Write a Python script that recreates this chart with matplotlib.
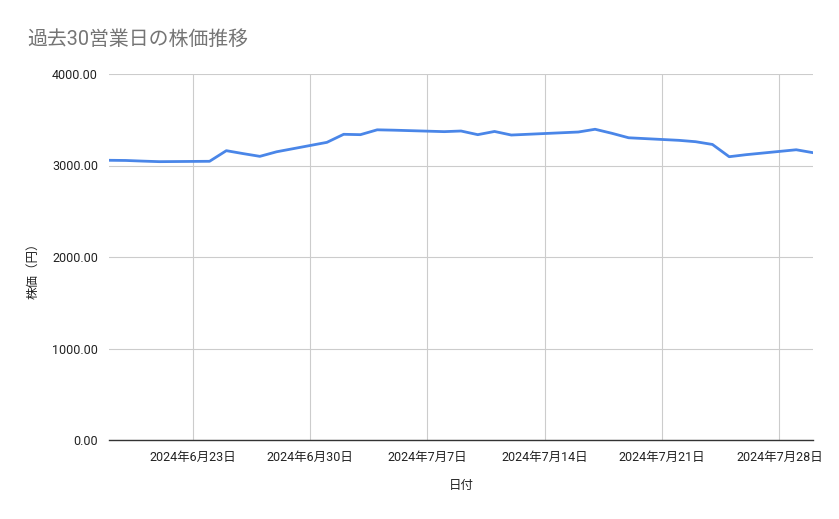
import matplotlib
matplotlib.use('Agg')
import matplotlib.pyplot as plt
import pandas as pd

plt.rcParams['font.family'] = ['Roboto', 'Noto Sans CJK JP', 'DejaVu Sans']

# 過去30営業日のデータ
dates = pd.to_datetime([
    '2024-06-18', '2024-06-19', '2024-06-20', '2024-06-21', '2024-06-24',
    '2024-06-25', '2024-06-26', '2024-06-27', '2024-06-28', '2024-07-01',
    '2024-07-02', '2024-07-03', '2024-07-04', '2024-07-05', '2024-07-08',
    '2024-07-09', '2024-07-10', '2024-07-11', '2024-07-12', '2024-07-16',
    '2024-07-17', '2024-07-18', '2024-07-19', '2024-07-22', '2024-07-23',
    '2024-07-24', '2024-07-25', '2024-07-26', '2024-07-29', '2024-07-30',
])
prices = [
    3057, 3055, 3048, 3042, 3046,
    3162, 3130, 3100, 3150, 3253,
    3341, 3337, 3390, 3386, 3370,
    3377, 3337, 3372, 3333, 3366,
    3396, 3352, 3303, 3275, 3260,
    3230, 3096, 3118, 3172, 3140,
]
tick_dates = pd.to_datetime(['2024-06-23', '2024-06-30', '2024-07-07',
                             '2024-07-14', '2024-07-21', '2024-07-28'])
y_ticks = [0, 1000, 2000, 3000, 4000]

fig = plt.figure(figsize=(8.39, 5.19), dpi=100)
ax = fig.add_axes([109 / 839, 1 - 440 / 519, (813 - 109) / 839, (440 - 74) / 519])

ax.plot(dates, prices, color='#4a86e8', linewidth=2)

ax.set_xlim(pd.Timestamp('2024-06-18'), pd.Timestamp('2024-07-30'))
ax.set_ylim(0, 4000)
ax.set_xticks(tick_dates)
ax.set_xticklabels([f'{d.year}年{d.month}月{d.day}日' for d in tick_dates])
ax.set_yticks(y_ticks)
ax.set_yticklabels([f'{v:.2f}' for v in y_ticks])
ax.tick_params(length=0, labelsize=9, colors='#222222', pad=8)

ax.grid(True, color='#cccccc', linewidth=0.8)
ax.set_axisbelow(True)
for s in ['top', 'right', 'left']:
    ax.spines[s].set_visible(False)
ax.spines['bottom'].set_color('#333333')
ax.spines['bottom'].set_linewidth(1)

# 軸ラベル
fig.text(461 / 839, 1 - 486 / 519, '日付', fontsize=9, color='#222222',
         ha='center', va='center')
fig.text(33 / 839, 1 - 268 / 519, '株価（円）', fontsize=9, color='#222222',
         ha='center', va='center', rotation=90)

fig.text(27 / 839, 1 - 39 / 519, '過去30営業日の株価推移', fontsize=14.3,
         color='#757575', va='center', ha='left')

fig.savefig('out.png', dpi=100)
